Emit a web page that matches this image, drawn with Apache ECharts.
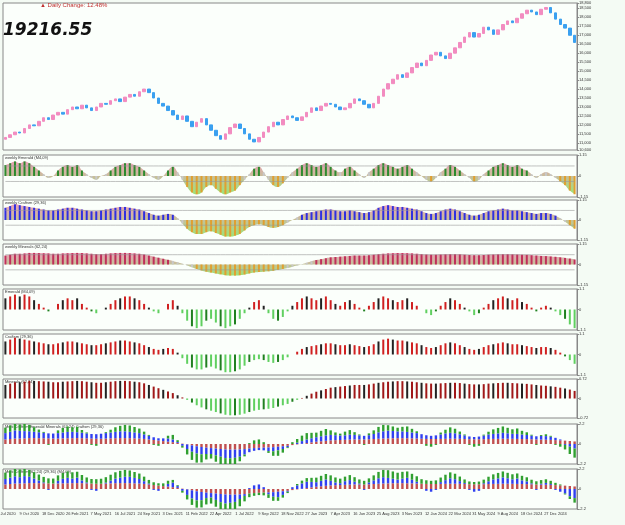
<!DOCTYPE html>
<html><head><meta charset="utf-8">
<script src="https://cdn.jsdelivr.net/npm/echarts@6/dist/echarts.min.js"></script>
<style>html,body{margin:0;padding:0;background:#f4fbf4}#c{width:625px;height:525px}</style>
</head><body><div id="c"></div>
<script>
const closes=[11300,11450,11600,11550,11800,12000,11950,12200,12400,12300,12550,12700,12600,12850,13000,12900,13100,12950,12800,13000,13200,13150,13350,13450,13300,13550,13700,13600,13850,14000,13800,13500,13200,13050,12800,12550,12300,12500,12200,11900,12150,12350,12000,11700,11400,11200,11500,11850,12050,11800,11500,11200,11050,11300,11600,11900,12150,12000,12300,12500,12400,12250,12450,12700,12950,12800,13050,13200,13150,13000,12850,12950,13200,13450,13350,13150,12950,13200,13600,14000,14300,14550,14800,14650,14900,15200,15450,15300,15600,15900,16050,15850,15700,16000,16300,16600,16900,17150,16900,17100,17450,17300,17050,17300,17600,17800,17700,17950,18200,18400,18300,18150,18450,18550,18250,17900,17600,17400,17000,16600];
const oscA=[0.6,0.7,0.8,0.7,0.8,0.7,0.5,0.3,0.1,-0.1,0.0,0.3,0.5,0.6,0.5,0.6,0.3,0.1,-0.1,-0.2,0.0,0.1,0.3,0.5,0.6,0.7,0.7,0.6,0.5,0.3,0.1,-0.1,-0.2,0.0,0.3,0.5,0.2,-0.2,-0.6,-0.9,-1.0,-0.9,-0.6,-0.5,-0.7,-0.9,-1.0,-0.9,-0.8,-0.5,-0.2,0.1,0.4,0.5,0.2,-0.2,-0.5,-0.6,-0.4,-0.1,0.2,0.4,0.6,0.7,0.6,0.5,0.6,0.7,0.5,0.3,0.2,0.4,0.5,0.3,0.1,-0.1,0.2,0.4,0.6,0.7,0.6,0.5,0.4,0.5,0.6,0.4,0.2,0.0,-0.2,-0.3,-0.1,0.2,0.4,0.6,0.5,0.3,0.1,-0.1,-0.3,-0.2,0.1,0.3,0.5,0.6,0.7,0.6,0.5,0.6,0.4,0.3,0.1,-0.1,0.1,0.2,0.1,-0.1,-0.3,-0.5,-0.8,-1.0];
const oscB=[0.7,0.8,0.9,0.85,0.8,0.75,0.7,0.65,0.6,0.55,0.55,0.6,0.65,0.7,0.7,0.65,0.6,0.55,0.5,0.5,0.55,0.6,0.65,0.7,0.75,0.75,0.7,0.65,0.6,0.5,0.4,0.3,0.25,0.3,0.35,0.3,0.1,-0.2,-0.5,-0.7,-0.8,-0.8,-0.7,-0.65,-0.75,-0.85,-0.95,-0.95,-0.9,-0.8,-0.6,-0.4,-0.3,-0.25,-0.3,-0.4,-0.45,-0.4,-0.3,-0.15,0.0,0.15,0.3,0.4,0.45,0.5,0.55,0.6,0.6,0.55,0.5,0.5,0.55,0.5,0.45,0.4,0.45,0.55,0.7,0.8,0.85,0.8,0.75,0.75,0.7,0.65,0.6,0.5,0.4,0.35,0.4,0.5,0.6,0.65,0.6,0.5,0.4,0.3,0.25,0.3,0.4,0.5,0.55,0.6,0.65,0.6,0.55,0.55,0.5,0.45,0.4,0.35,0.4,0.4,0.35,0.25,0.1,-0.1,-0.3,-0.5];
const oscC=[0.5,0.55,0.6,0.6,0.62,0.65,0.65,0.64,0.63,0.62,0.6,0.6,0.62,0.63,0.64,0.65,0.64,0.62,0.6,0.58,0.58,0.6,0.62,0.64,0.65,0.65,0.64,0.62,0.6,0.56,0.5,0.44,0.38,0.32,0.26,0.2,0.12,0.04,-0.05,-0.15,-0.25,-0.33,-0.4,-0.45,-0.5,-0.55,-0.6,-0.62,-0.62,-0.6,-0.56,-0.5,-0.45,-0.42,-0.4,-0.38,-0.35,-0.3,-0.25,-0.2,-0.12,-0.05,0.02,0.1,0.18,0.25,0.3,0.35,0.4,0.42,0.44,0.46,0.48,0.5,0.5,0.5,0.52,0.55,0.58,0.6,0.62,0.63,0.64,0.64,0.63,0.62,0.6,0.58,0.56,0.55,0.55,0.56,0.57,0.58,0.58,0.57,0.55,0.53,0.52,0.52,0.53,0.55,0.56,0.57,0.58,0.58,0.57,0.56,0.55,0.54,0.52,0.5,0.48,0.47,0.45,0.43,0.4,0.37,0.33,0.28];
const titles=['weekly Emerald (M4,09)','weekly Craftsm (29,36)','weekly Minerals (62,24)','Emerald (M4,09)','Craftsm (29,36)','Minerals (62,24)','Multi Craftsm Emerald Minerals (62,24) Craftsm (29,36)','Multi Craftsm (62,24) (29,36) (M4,09)'];
const N=closes.length;
const cats=[];{let d=new Date(Date.UTC(2020,6,31));const M=['Jan','Feb','Mar','Apr','May','Jun','Jul','Aug','Sep','Oct','Nov','Dec'];for(let i=0;i<N;i++){cats.push(d.getUTCDate()+' '+M[d.getUTCMonth()]+' '+d.getUTCFullYear());d=new Date(d.getTime()+14*864e5);}}
const ohlc=closes.map((c,i)=>{const o=i?closes[i-1]:c-100;return [o,c,Math.min(o,c),Math.max(o,c)];});
const L=3,R=48;
const panes=[[3,147],[155,42],[200,40],[244,41],[289,41],[334,41],[379,39],[424,40],[469,40]];
const ranges=[[10600,18800],[-1.15,1.15],[-1.15,1.15],[-1.15,1.15],[-1.1,1.1],[-1.1,1.1],[-0.72,0.72],[-2.2,2.2],[-2.2,2.2]];
const grid=[],xAxis=[],yAxis=[],series=[],graphic=[];
panes.forEach((p,k)=>{
 grid.push({left:L,right:R,top:p[0],height:p[1],show:true,borderColor:'#888',borderWidth:1,backgroundColor:'#fbfffb',outerBoundsMode:'none',containLabel:false});
 xAxis.push({type:'category',gridIndex:k,data:cats,boundaryGap:true,axisTick:{show:false},axisLine:{show:false},splitLine:{show:false},
  axisLabel:{show:k===8,fontSize:4,color:'#333',interval:4,margin:3}});
 yAxis.push({type:'value',gridIndex:k,position:'right',min:ranges[k][0],max:ranges[k][1],
  splitLine:{show:false},axisLine:{show:true,lineStyle:{color:'#888'}},axisTick:{show:true,length:2},
  splitNumber:k===0?14:1,axisLabel:{fontSize:4,color:'#333',margin:2}});
 if(k>0)graphic.push({type:'text',left:L+2,top:p[0]+1,style:{text:titles[k-1],fontSize:4,fill:'#333'}});
});
series.push({type:'candlestick',xAxisIndex:0,yAxisIndex:0,data:ohlc,barWidth:3,
 itemStyle:{color:'#f28cc0',color0:'#3aa0f0',borderColor:'#f28cc0',borderColor0:'#3aa0f0'}});
function wk(k,d,pos,neg){
 series.push({type:'line',xAxisIndex:k,yAxisIndex:k,data:d,smooth:true,symbol:'none',lineStyle:{width:0},
  areaStyle:{color:{type:'linear',x:0,y:0,x2:0,y2:1,colorStops:[{offset:0,color:'#e0608a'},{offset:1,color:neg[1]}]},opacity:0.6},z:1});
 series.push({type:'bar',xAxisIndex:k,yAxisIndex:k,data:d,barWidth:2,z:2,
  itemStyle:{color:p=>p.value>0.2?pos:(p.value<-0.2?neg[0]:'#c8c8c8')}});
 series.push({type:'line',xAxisIndex:k,yAxisIndex:k,data:d.map(()=>0.55),symbol:'none',lineStyle:{color:'#999',width:0.6},z:3});
 series.push({type:'line',xAxisIndex:k,yAxisIndex:k,data:d.map(()=>-0.3),symbol:'none',lineStyle:{color:'#999',width:0.6},z:3});
}
wk(1,oscA,'#2e8b2e',['#e0a030','#60d020']);
wk(2,oscB,'#3030e0',['#e0a030','#60d020']);
wk(3,oscC,'#c0305a',['#e0a030','#60d020']);
function pl(k,d,pos,neg){
 series.push({type:'bar',xAxisIndex:k,yAxisIndex:k,data:d,barWidth:2,
  itemStyle:{color:p=>p.dataIndex%3===0?(p.value>0?'#222':'#208020'):(p.value>0?pos:neg)}});
}
pl(4,oscA,'#d02020','#60d060');
pl(5,oscB,'#d02020','#60d060');
pl(6,oscC,'#a01818','#60d060');
[7,8].forEach(k=>{
 const sets=k===7?[[oscC,'#c05050'],[oscB,'#3040f0'],[oscA,'#30a030']]:[[oscC,'#c05050'],[oscA,'#3040f0'],[oscB,'#30a030']];
 sets.forEach(s=>series.push({type:'bar',xAxisIndex:k,yAxisIndex:k,data:s[0],stack:'s'+k,barWidth:2.4,itemStyle:{color:s[1]}}));
});
graphic.push({type:'text',left:40,top:2,style:{text:'▲ Daily Change: 12.48%',fontSize:6,fill:'#c03030'}});
graphic.push({type:'text',left:3,top:22,style:{text:'19216.55',fontSize:17,fontWeight:'bold',fontStyle:'italic',fill:'#111',fontFamily:'DejaVu Sans'}});
const ch=echarts.init(document.getElementById('c'));
ch.setOption({animation:false,backgroundColor:'#f4fbf4',grid,xAxis,yAxis,series,graphic});
</script></body></html>
